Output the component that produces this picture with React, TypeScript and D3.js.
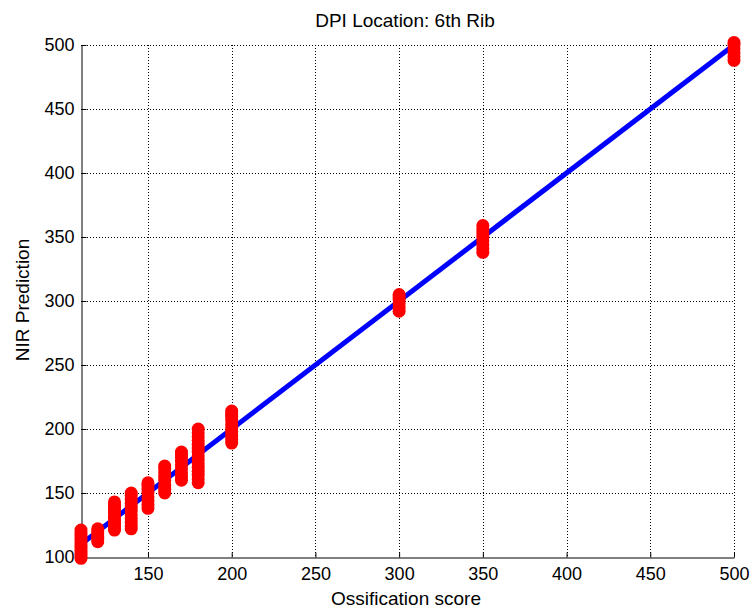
import React, {useEffect, useRef} from 'react';
import * as d3 from 'd3';

const scores = [110, 120, 130, 140, 150, 160, 170, 180, 200, 300, 350, 500];
const predictions = [
  [99, 101, 103, 105, 107, 109, 111, 113, 115, 117, 119, 121],
  [112, 114, 116, 118, 120, 122],
  [121, 123, 125, 127, 129, 131, 133, 135, 137, 139, 141, 143],
  [122, 124, 127, 130, 133, 136, 139, 142, 145, 148, 150],
  [138, 141, 144, 147, 150, 153, 156, 158],
  [150, 153, 156, 160, 163, 166, 169, 171],
  [160, 163, 166, 169, 172, 175, 178, 180, 182],
  [158, 161, 164, 167, 170, 173, 176, 179, 182, 185, 188, 191, 194, 197, 200],
  [189, 192, 195, 198, 201, 204, 207, 210, 212, 214],
  [292, 295, 298, 301, 303, 305],
  [338, 341, 344, 347, 350, 353, 356, 359],
  [488, 491, 494, 497, 500, 502]
];
const fitLine = [
  {x: 110, y: 110},
  {x: 500, y: 500}
];
const xTicks = [150, 200, 250, 300, 350, 400, 450, 500];
const yTicks = [100, 150, 200, 250, 300, 350, 400, 450, 500];

const W = 752;
const H = 611;
const left = 81;
const right = 734;
const top = 45;
const bottom = 557;
const font = '"Liberation Sans", Arial, sans-serif';

function App() {
  const chartRef = useRef<SVGSVGElement>(null);

  useEffect(() => {
    const svg = d3.select(chartRef.current);
    svg.selectAll('*').remove();

    const x = d3.scaleLinear().domain([110, 500]).range([left, right]);
    const y = d3.scaleLinear().domain([100, 500]).range([bottom, top]);

    svg.append('rect').attr('width', W).attr('height', H).attr('fill', 'white');

    // dotted grid
    const grid = svg.append('g').attr('stroke', '#000').attr('stroke-width', 1)
      .attr('stroke-dasharray', '1,2').attr('shape-rendering', 'crispEdges');
    grid.selectAll('.gx').data(xTicks).join('line')
      .attr('x1', d => Math.round(x(d)) + 0.5).attr('x2', d => Math.round(x(d)) + 0.5)
      .attr('y1', top).attr('y2', bottom);
    grid.selectAll('.gy').data(yTicks.filter(d => d !== 100)).join('line')
      .attr('class', 'gy')
      .attr('y1', d => Math.round(y(d)) + 0.5).attr('y2', d => Math.round(y(d)) + 0.5)
      .attr('x1', left).attr('x2', right);

    // axes
    const xAxis = d3.axisBottom(x).tickValues(xTicks).tickSizeInner(-5).tickSizeOuter(0).tickPadding(10);
    const gx = svg.append('g').attr('transform', `translate(0,${bottom + 0.5})`).call(xAxis as any);
    const yAxis = d3.axisLeft(y).tickValues(yTicks).tickSizeInner(-5).tickSizeOuter(0).tickPadding(7);
    const gy = svg.append('g').attr('transform', `translate(${left + 0.5},0)`).call(yAxis as any);
    [gx, gy].forEach(g => {
      g.select('.domain').attr('stroke', '#000');
      g.selectAll('.tick line').attr('stroke', '#000');
      g.selectAll('.tick text').attr('fill', '#000').style('font-family', font).style('font-size', '18px');
    });

    // fitted line
    const line = d3.line<{x: number, y: number}>().x(d => x(d.x)).y(d => y(d.y));
    svg.append('path').datum(fitLine).attr('d', line)
      .attr('stroke', '#0000ff').attr('stroke-width', 5).attr('fill', 'none');

    // points
    const pts = scores.flatMap((s, i) => predictions[i].map(p => ({s, p})));
    svg.append('g').selectAll('circle').data(pts).join('circle')
      .attr('cx', d => x(d.s)).attr('cy', d => y(d.p)).attr('r', 6.5).attr('fill', '#ff0000');

    // labels
    svg.append('text').attr('x', 405).attr('y', 27).attr('text-anchor', 'middle')
      .style('font-family', font).style('font-size', '19px').text('DPI Location: 6th Rib');
    svg.append('text').attr('x', 406).attr('y', 605).attr('text-anchor', 'middle')
      .style('font-family', font).style('font-size', '19px').text('Ossification score');
    svg.append('text').attr('transform', 'translate(29,300) rotate(-90)').attr('text-anchor', 'middle')
      .style('font-family', font).style('font-size', '19px').text('NIR Prediction');
  });

  return (
    <svg ref={chartRef} width={W} height={H}
      style={{position: 'absolute', left: 0, top: 0, display: 'block'}}/>
  );
}

export default App;
